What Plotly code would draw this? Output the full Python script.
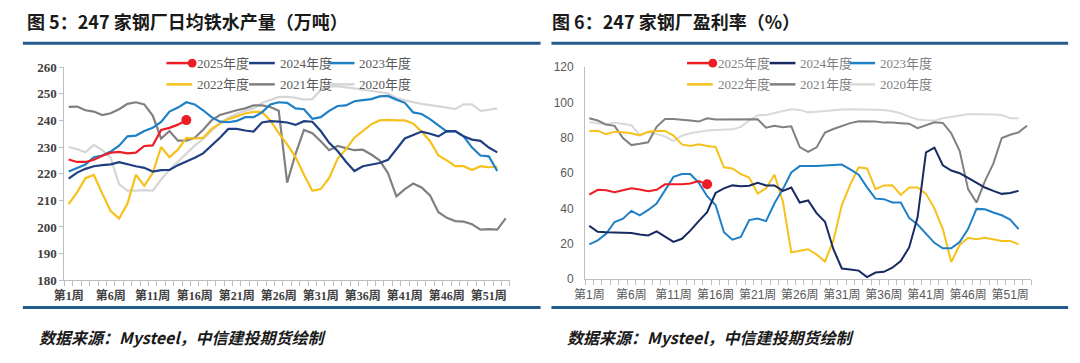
import plotly.graph_objects as go

# ---------------- data ----------------
weeks = [f"第{i}周" for i in range(1, 54)]
shown_weeks = weeks[::5]  # 第1周, 第6周, ... 第51周

series_names = ["2025年度", "2024年度", "2023年度", "2022年度", "2021年度", "2020年度"]

# Figure 5: daily hot metal output (10k t)
hm_2025 = [225.3, 224.4, 224.4, 225.2, 226.7, 227.9, 228.2, 227.6, 227.9, 230.4, 230.6, 236.4, 237.2, 238.4, 240.1]
hm_2024 = [218.1, 220.4, 221.8, 222.8, 223.2, 223.5, 224.3, 223.5, 222.8, 222.2, 220.8, 221.3, 221.4, 223.2, 224.5,
           226.0, 227.6, 230.4, 233.5, 236.8, 236.8, 236.2, 235.8, 239.2, 239.7, 239.5, 239.2, 238.3, 239.7, 239.5,
           236.0, 231.6, 228.5, 224.5, 221.0, 222.8, 223.5, 224.0, 225.2, 229.0, 233.2, 234.5, 235.8, 235.0, 234.0,
           236.0, 236.0, 234.0, 232.8, 232.3, 229.8, 228.0]
hm_2023 = [220.8, 222.0, 223.4, 226.2, 226.8, 228.3, 230.5, 234.0, 234.3, 236.0, 237.2, 239.4, 243.3, 244.8, 246.8,
           246.0, 243.8, 241.2, 239.5, 239.3, 239.8, 241.2, 241.2, 243.0, 246.0, 246.8, 246.6, 244.5, 244.2, 240.6,
           241.2, 243.6, 245.4, 245.6, 247.2, 247.6, 248.0, 249.0, 249.2, 247.8, 246.6, 243.0, 242.4, 240.5, 238.0,
           235.8, 236.0, 234.0, 229.8, 226.8, 226.5, 221.0]
hm_2022 = [208.6, 213.0, 218.3, 219.5, 212.5, 206.0, 203.2, 208.8, 219.6, 215.4, 220.2, 230.0, 226.2, 229.0, 233.4,
           233.2, 233.4, 236.8, 238.8, 240.4, 241.5, 242.6, 243.2, 243.2, 240.0, 235.2, 231.0, 226.2, 219.6, 213.6,
           214.2, 218.4, 225.6, 229.2, 233.5, 236.0, 238.5, 240.0, 240.2, 240.0, 240.0, 238.8, 235.8, 232.2, 226.8,
           225.0, 222.8, 222.8, 221.4, 222.8, 222.4, 222.6]
hm_2021 = [245.1, 245.2, 243.8, 243.3, 242.0, 242.7, 244.2, 246.2, 246.8, 246.0, 241.8, 233.2, 236.0, 232.4, 232.4,
           233.5, 236.5, 240.0, 242.0, 243.0, 243.8, 244.5, 245.6, 245.6, 245.0, 243.6, 216.6, 227.4, 236.4, 235.2,
           232.2, 228.8, 230.4, 229.6, 228.8, 229.0, 227.2, 225.0, 220.2, 211.5, 214.2, 216.3, 214.8, 211.8, 205.5,
           203.4, 202.2, 202.0, 201.0, 199.0, 199.2, 199.0, 203.2]
hm_2020 = [230.0, 229.2, 228.0, 230.8, 228.8, 226.0, 216.0, 213.6, 213.6, 213.8, 213.6, 217.8, 221.5, 224.4, 227.5,
           230.5, 233.0, 236.0, 239.0, 241.0, 242.5, 243.5, 244.5, 246.5, 247.8, 248.8, 248.8, 248.5, 247.8, 248.0,
           251.4, 252.8, 252.8, 252.5, 252.0, 251.5, 251.0, 250.6, 250.2, 248.4, 247.5, 246.8, 246.2, 245.8, 245.4,
           244.8, 244.2, 246.0, 246.0, 243.6, 244.0, 244.5]

# Figure 6: profitability rate (%)
pr_2025 = [47.9, 50.6, 50.4, 49.2, 50.4, 51.5, 50.8, 49.8, 50.6, 53.7, 53.7, 53.7, 54.2, 55.5, 53.7]
pr_2024 = [30.2, 26.9, 26.6, 26.6, 26.2, 26.2, 25.3, 24.8, 27.1, 24.2, 21.1, 22.9, 27.5, 32.9, 38.0,
           48.8, 51.4, 53.1, 52.6, 52.9, 54.6, 53.1, 53.1, 50.0, 51.9, 43.4, 44.6, 37.4, 32.5, 17.0,
           6.1, 5.5, 4.9, 1.2, 3.8, 4.2, 6.5, 10.3, 18.0, 35.0, 71.8, 74.5, 64.5, 61.5, 60.0,
           57.3, 54.6, 51.9, 50.0, 48.3, 48.8, 50.0]
pr_2023 = [19.7, 22.0, 25.7, 32.4, 34.3, 38.7, 36.2, 39.2, 42.8, 50.0, 57.9, 59.5, 59.5, 54.6, 47.0,
           42.0, 26.6, 22.4, 23.9, 33.5, 34.3, 32.9, 43.0, 51.0, 60.4, 64.0, 63.8, 64.0, 64.3, 64.5,
           64.9, 62.2, 59.1, 52.0, 45.6, 45.3, 43.4, 43.4, 34.7, 31.0, 25.7, 20.6, 17.5, 17.5, 21.1,
           28.4, 39.8, 39.6, 37.8, 36.2, 33.8, 28.4]
pr_2022 = [83.9, 83.9, 82.1, 83.5, 83.2, 82.6, 81.3, 83.5, 83.9, 83.9, 81.3, 76.3, 75.4, 76.3, 75.4,
           74.8, 63.3, 62.7, 59.5, 57.5, 48.5, 51.5, 59.1, 44.0, 15.2, 16.1, 17.0, 14.0, 10.0, 22.0,
           42.0, 53.5, 63.3, 62.7, 51.0, 53.1, 53.2, 47.7, 51.9, 51.9, 48.3, 40.1, 28.4, 9.8, 19.4,
           23.5, 22.6, 23.5, 22.4, 21.7, 21.7, 19.7]
pr_2021 = [91.1, 89.8, 87.5, 86.8, 79.9, 75.9, 76.6, 77.5, 86.2, 90.7, 90.7, 90.4, 89.8, 89.2, 91.1,
           90.4, 90.4, 90.4, 90.5, 90.5, 90.5, 85.7, 86.8, 86.0, 86.5, 74.8, 72.0, 74.6, 83.0, 85.0,
           86.8, 88.3, 89.4, 89.4, 89.2, 88.6, 88.7, 88.3, 88.0, 85.5, 87.1, 88.8, 88.4, 82.6, 72.6,
           51.0, 43.4, 55.5, 65.4, 79.9, 81.7, 83.1, 86.8]
pr_2020 = [88.9, 88.0, 87.5, 88.6, 88.0, 87.1, 81.7, 83.1, 82.1, 80.8, 78.1, 81.2, 82.6, 83.5, 84.1,
           84.4, 84.4, 84.8, 86.2, 89.8, 92.8, 92.9, 94.0, 95.2, 96.2, 95.8, 94.4, 94.7, 95.2, 95.3,
           96.0, 96.1, 96.1, 96.1, 96.0, 95.8, 95.0, 93.9, 92.0, 90.4, 90.0, 89.8, 91.1, 92.0, 92.9,
           93.4, 93.4, 93.4, 93.2, 92.9, 91.1, 91.1]

left_series = [hm_2025, hm_2024, hm_2023, hm_2022, hm_2021, hm_2020]
right_series = [pr_2025, pr_2024, pr_2023, pr_2022, pr_2021, pr_2020]

left_title = "图 5：247 家钢厂日均铁水产量（万吨）"
right_title = "图 6：247 家钢厂盈利率（%）"
source_text = "数据来源：Mysteel，中信建投期货绘制"

# ---------------- style ----------------
W, H = 1080, 363
colors_left = ["#ee1c25", "#1f3f82", "#1f80c6", "#f6c11b", "#808080", "#d6d6d6"]
colors_right = ["#ee1c25", "#172a62", "#1f80c6", "#f6c11b", "#808080", "#d9d9d9"]
SERIF = "Liberation Serif, Noto Sans CJK SC, serif"
SANS = "Liberation Sans, Noto Sans CJK SC, sans-serif"
CJK = "Noto Sans CJK SC"
AXIS_GRAY = "#bfbfbf"
RULE = "#24598c"


def px(x):
    return x / W


def py(y):
    return 1 - y / H


fig = go.Figure()

# plot areas in pixels (left, right, top, bottom)
LEFT_BOX = (54, 504, 62.7, 285)
RIGHT_BOX = (580, 1030.7, 62.7, 284)

# traces (draw older years first so 2025 is on top)
for axis_id, series, cols in (("", left_series, colors_left), ("2", right_series, colors_right)):
    for i in reversed(range(len(series))):
        vals = series[i]
        xs = list(range(1, len(vals) + 1))
        fig.add_trace(go.Scatter(
            x=xs, y=vals, mode="lines", name=series_names[i],
            line=dict(color=cols[i], width=2.2 if axis_id == "" else 2.0),
            xaxis="x" + axis_id, yaxis="y" + axis_id, showlegend=False,
            hoverinfo="skip",
        ))
        if i == 0:
            fig.add_trace(go.Scatter(
                x=[xs[-1]], y=[vals[-1]], mode="markers",
                marker=dict(color=cols[i], size=10),
                xaxis="x" + axis_id, yaxis="y" + axis_id, showlegend=False,
                hoverinfo="skip",
            ))

tick_pos = [weeks.index(w) + 1 for w in shown_weeks]


def xaxis_cfg(box, font):
    return dict(
        domain=[px(box[0]), px(box[1])], range=[0.5, 53.5],
        tickmode="array", tickvals=tick_pos, ticktext=shown_weeks,
        ticks="", showline=True, linecolor=AXIS_GRAY, linewidth=1,
        showgrid=False, zeroline=False, tickfont=font, ticklabelstandoff=4,
        minor=dict(tickmode="linear", tick0=0.5, dtick=1, ticks="outside",
                   ticklen=5, tickcolor=AXIS_GRAY, showgrid=False),
        fixedrange=True,
    )


def yaxis_cfg(box, rng, dtick, font, ticklen):
    return dict(
        domain=[py(box[3]), py(box[2])], range=rng, dtick=dtick, tick0=rng[0],
        showline=True, linecolor=AXIS_GRAY, linewidth=1,
        ticks="outside" if ticklen else "", ticklen=ticklen, tickcolor=AXIS_GRAY,
        showgrid=False, zeroline=False, tickfont=font, fixedrange=True,
    )


left_xfont = dict(family=SERIF, size=12, color="#404040", weight="bold")
left_yfont = dict(family=SERIF, size=13, color="#404040", weight="bold")
right_font = dict(family=SANS, size=12, color="#595959")

fig.update_layout(
    width=W, height=H, margin=dict(l=0, r=0, t=0, b=0),
    paper_bgcolor="white", plot_bgcolor="white", showlegend=False,
    xaxis=xaxis_cfg(LEFT_BOX, left_xfont),
    yaxis=yaxis_cfg(LEFT_BOX, [180, 260], 10, left_yfont, 4),
    xaxis2=dict(xaxis_cfg(RIGHT_BOX, right_font), anchor="y2"),
    yaxis2=dict(yaxis_cfg(RIGHT_BOX, [0, 120], 20, right_font, 0), anchor="x2", ticklabelstandoff=8),
)
fig.layout.xaxis.anchor = "y"
fig.layout.yaxis.anchor = "x"

shapes = []
annotations = []

# titles, rules, footers
for title, x_title, rule_x0, rule_x1, foot_x in (
        (left_title, 14, 12, 535, 26),
        (right_title, 545, 546, 1068, 560)):
    annotations.append(dict(
        text=title, x=px(x_title), y=py(15), xref="paper", yref="paper",
        xanchor="left", yanchor="middle", align="left", showarrow=False,
        font=dict(family=CJK, size=18, color="#1a1a1a", weight="bold"),
    ))
    for ry in (37.7, 313.5):
        shapes.append(dict(type="line", xref="paper", yref="paper",
                           x0=px(rule_x0), x1=px(rule_x1), y0=py(ry), y1=py(ry),
                           line=dict(color=RULE, width=3)))
    annotations.append(dict(
        text="<i>" + source_text + "</i>", x=px(foot_x), y=py(344), xref="paper", yref="paper",
        xanchor="left", yanchor="middle", align="left", showarrow=False,
        font=dict(family=CJK, size=16, color="#1a1a1a", weight="bold"),
    ))

# manual legends (2 rows x 3 columns)
col_offsets = [103, 186.5, 267]
row_ys = [58.5, 80.7]
for box, cols, tcolor in ((LEFT_BOX, colors_left, "#595959"), (RIGHT_BOX, colors_right, "#7f7f7f")):
    for i, name in enumerate(series_names):
        r, c = divmod(i, 3)
        x0 = box[0] + col_offsets[c]
        x1 = x0 + 26
        yy = row_ys[r]
        shapes.append(dict(type="line", xref="paper", yref="paper",
                           x0=px(x0), x1=px(x1), y0=py(yy), y1=py(yy),
                           line=dict(color=cols[i], width=2.5)))
        if i == 0:
            rad = 4.5
            shapes.append(dict(type="circle", xref="paper", yref="paper",
                               x0=px(x1 - rad), x1=px(x1 + rad), y0=py(yy + rad), y1=py(yy - rad),
                               fillcolor=cols[i], line=dict(color=cols[i], width=0)))
        annotations.append(dict(
            text=name, x=px(x1 + 3), y=py(yy), xref="paper", yref="paper",
            xanchor="left", yanchor="middle", align="left", showarrow=False,
            font=dict(family=SERIF, size=13, color=tcolor),
        ))

fig.update_layout(shapes=shapes, annotations=annotations)
fig.write_html(
    "out.html",
    config={"displayModeBar": False, "staticPlot": True},
    post_script="document.body.style.margin='0';document.body.style.padding='0';",
)
